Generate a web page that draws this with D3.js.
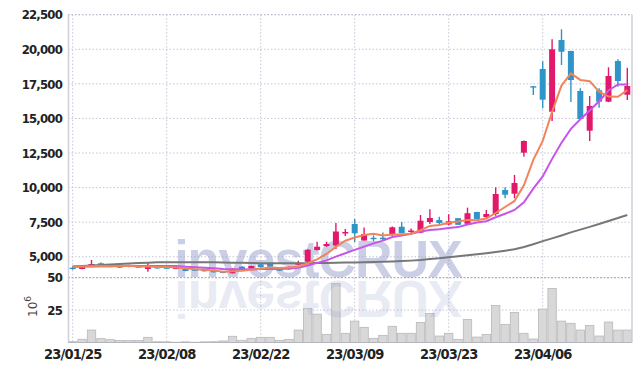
<!DOCTYPE html>
<html>
<head>
<meta charset="utf-8">
<script src="https://cdn.jsdelivr.net/npm/d3@7"></script>
<style>
  body { margin: 0; background: #fff; }
  svg { display: block; }
  .tick-label { font-family: "DejaVu Sans Condensed", "Liberation Sans Narrow", sans-serif; font-weight: bold; fill: #222; }
</style>
</head>
<body>
<div id="chart"></div>
<script>
const dates = [
  "2023-01-25", "2023-01-26", "2023-01-27", "2023-01-30", "2023-01-31",
  "2023-02-01", "2023-02-02", "2023-02-03", "2023-02-06", "2023-02-07",
  "2023-02-08", "2023-02-09", "2023-02-10", "2023-02-13", "2023-02-14",
  "2023-02-15", "2023-02-16", "2023-02-17", "2023-02-20", "2023-02-21",
  "2023-02-22", "2023-02-23", "2023-02-24", "2023-02-27", "2023-02-28",
  "2023-03-02", "2023-03-03", "2023-03-06", "2023-03-07", "2023-03-08",
  "2023-03-09", "2023-03-10", "2023-03-13", "2023-03-14", "2023-03-15",
  "2023-03-16", "2023-03-17", "2023-03-20", "2023-03-21", "2023-03-22",
  "2023-03-23", "2023-03-24", "2023-03-27", "2023-03-28", "2023-03-29",
  "2023-03-30", "2023-03-31", "2023-04-03", "2023-04-04", "2023-04-05",
  "2023-04-06", "2023-04-07", "2023-04-10", "2023-04-11", "2023-04-12",
  "2023-04-13", "2023-04-14", "2023-04-17", "2023-04-18", "2023-04-19"
]

const open = [
  4210, 4115, 4310, 4527, 4404, 4331, 4259, 4331, 4115, 4259,
  4237, 4115, 4165, 4093, 4064, 4021, 3948, 3804, 4281, 4165,
  4454, 4527, 4165, 4093, 4425, 4642, 5488, 5777, 5814, 6681,
  7368, 6175, 6370, 6378, 6558, 7173, 6790, 6739, 7512, 7657,
  7332, 7787, 7383, 8236, 7874, 8091, 9826, 9559, 12523, 17330,
  18575, 15487, 20671, 19876, 16984, 14114, 17035, 16211, 19153, 16716
]
const high = [
  4290, 4380, 4765, 4585, 4430, 4350, 4420, 4360, 4600, 4290,
  4260, 4280, 4190, 4110, 4090, 4040, 3970, 4170, 4330, 4350,
  4480, 4550, 4190, 4300, 4715, 5540, 6090, 6090, 7440, 7010,
  7730, 7115, 6540, 6750, 7180, 7510, 7040, 8020, 8430, 7900,
  8070, 7810, 8550, 8260, 8380, 10020, 10020, 10910, 13400, 17340,
  19130, 20720, 21445, 19900, 17180, 16620, 17180, 18700, 19280, 18670
]
const low = [
  4060, 4100, 4290, 4360, 4240, 4190, 4240, 4200, 3920, 4140,
  4120, 4100, 3950, 3970, 3930, 3860, 3800, 3790, 4090, 4150,
  4220, 4260, 3970, 4080, 4380, 4620, 5450, 5705, 5560, 6500,
  6070, 6150, 6120, 6210, 6520, 6680, 6700, 6700, 7370, 7370,
  7275, 7290, 7370, 7710, 7730, 7970, 9225, 9225, 12235, 16700,
  15730, 14815, 18865, 16190, 14930, 13370, 15770, 16180, 17295, 16335
]
const close = [
  4120, 4353, 4476, 4382, 4259, 4209, 4404, 4209, 4353, 4165,
  4136, 4259, 3970, 3992, 3948, 3876, 3825, 4130, 4115, 4331,
  4237, 4281, 3992, 4281, 4570, 5510, 5727, 5922, 6826, 6790,
  6696, 6645, 6330, 6262, 7129, 6696, 6898, 7607, 7802, 7440,
  7563, 7310, 8149, 7730, 8091, 9537, 9486, 10332, 13369, 17320,
  16355, 20000, 19825, 17779, 14960, 15899, 16211, 18068, 17706, 17345
]
// volume in millions
const volume = [
  0.6, 2.5, 9.6, 3, 2.2, 1.5, 1.5, 1.5, 4, 0.6,
  0.5, 0.2, 0.5, 0.2, 0.5, 0.6, 1.2, 4.8, 1.7, 3.2,
  4, 4, 1.7, 2.4, 9.6, 26.3, 21.9, 6.3, 45.5, 7.1,
  16.5, 11.7, 3.2, 5.5, 12.5, 7.1, 7.1, 15.5, 22.4, 5,
  7.1, 2.4, 17.8, 4.2, 6.3, 28.6, 14, 23.2, 7.1, 2.7,
  25.8, 41.7, 16.5, 14.8, 9.6, 13.2, 5, 15.8, 9.6, 9.6
]

const ma5 = [
  4290, 4300, 4320, 4330, 4318, 4336, 4346, 4293, 4287, 4268,
  4253, 4224, 4177, 4104, 4061, 4009, 3922, 3954, 3979, 4055,
  4128, 4219, 4191, 4224, 4272, 4527, 4816, 5202, 5711, 6155,
  6392, 6576, 6657, 6545, 6612, 6612, 6663, 6918, 7226, 7289,
  7462, 7544, 7653, 7638, 7769, 8163, 8599, 9035, 10163, 12009,
  13372, 15475, 17374, 18256, 17784, 17693, 16935, 16583, 16569, 17046
]
const ma10 = [
  4280, 4290, 4300, 4310, 4320, 4325, 4330, 4330, 4330, 4333,
  4335, 4325, 4275, 4236, 4205, 4171, 4113, 4105, 4082, 4098,
  4108, 4111, 4113, 4142, 4204, 4367, 4557, 4737, 5008, 5254,
  5500, 5736, 5970, 6168, 6424, 6542, 6659, 6828, 6926, 6991,
  7077, 7144, 7326, 7472, 7569, 7853, 8112, 8384, 8941, 9929,
  10808, 12077, 13245, 14249, 14936, 15573, 16245, 17019, 17452, 17455
]
const ma60 = [
  4300, 4330, 4360, 4400, 4440, 4480, 4520, 4550, 4575, 4595,
  4600, 4605, 4605, 4600, 4600, 4595, 4585, 4575, 4560, 4545,
  4535, 4530, 4525, 4525, 4525, 4530, 4540, 4550, 4565, 4580,
  4590, 4600, 4620, 4640, 4665, 4690, 4720, 4760, 4830, 4900,
  4960, 5030, 5100, 5180, 5260, 5350, 5440, 5540, 5700, 5900,
  6130, 6330, 6540, 6760, 6960, 7160, 7370, 7590, 7800, 8020
]

const dateTicks = ["2023-01-25", "2023-02-08", "2023-02-22", "2023-03-09", "2023-03-23", "2023-04-06"]
const priceTicks = [5000, 7500, 10000, 12500, 15000, 17500, 20000, 22500]
const volumeTicks = [25, 50]

const width = 642, height = 371
const margin = {top: 14.7, right: 10, left: 68}
const priceBottom = 277.5, volumeBottom = 342.5, volumeTop = 277.7

const red = "#e2196b", blue = "#2f95c8"

const svg = d3.select("#chart").append("svg")
  .attr("width", width)
  .attr("height", height)
  .attr("viewBox", [0, 0, width, height])

const x = d3.scaleBand().domain(dates).range([margin.left, width - margin.right])
const cx = d => x(d) + x.bandwidth() / 2
const y = d3.scaleLinear().domain([3500, 22500]).range([priceBottom, margin.top])
const yv = d3.scaleLinear().domain([0, 50]).range([volumeBottom, volumeTop])

// grid
const grid = svg.append("g").attr("fill", "none")
grid.selectAll("line.h")
  .data(priceTicks)
  .join("line")
    .attr("x1", margin.left).attr("x2", width - margin.right)
    .attr("y1", d => y(d)).attr("y2", d => y(d))
    .attr("stroke", "#c3c6d6")
    .attr("stroke-dasharray", "1.5,2")
grid.append("line")
  .attr("x1", margin.left).attr("x2", width - margin.right)
  .attr("y1", yv(25)).attr("y2", yv(25))
  .attr("stroke", "#c3c6d6")
  .attr("stroke-dasharray", "1.5,2")
grid.selectAll("line.v")
  .data(dateTicks)
  .join("line")
    .attr("x1", cx).attr("x2", cx)
    .attr("y1", margin.top).attr("y2", volumeBottom)
    .attr("stroke", "#c3c6d6")
    .attr("stroke-dasharray", "1.5,2")

// volume bars
svg.append("g")
  .selectAll("rect")
  .data(dates)
  .join("rect")
    .attr("x", d => x(d) + 0.5)
    .attr("y", (d, i) => yv(volume[i]))
    .attr("width", x.bandwidth() - 1)
    .attr("height", (d, i) => yv(0) - yv(volume[i]))
    .attr("fill", "#d8d8d8")
    .attr("stroke", "#b8b8b8")
    .attr("stroke-width", 0.8)

// watermark + its reflection
const mark = svg.append("g")
  .attr("font-family", "Liberation Sans, Arial, sans-serif")
  .attr("font-weight", "bold")
  .attr("font-size", 52)
  .attr("letter-spacing", -1)
  .attr("text-anchor", "middle")
mark.append("text")
  .attr("x", 318).attr("y", 277)
  .attr("fill", "rgb(150,160,205)")
  .attr("fill-opacity", 0.5)
  .text("investCRUX")
mark.append("text")
  .attr("x", 318).attr("y", 277)
  .attr("transform", "translate(0,558) scale(1,-1)")
  .attr("fill", "rgb(150,160,205)")
  .attr("fill-opacity", 0.22)
  .text("investCRUX")

// frame
svg.append("line")
  .attr("x1", margin.left).attr("x2", width - margin.right)
  .attr("y1", margin.top).attr("y2", margin.top)
  .attr("stroke", "#b8bbcc").attr("stroke-dasharray", "1.5,2")
svg.append("line")
  .attr("x1", margin.left).attr("x2", width - margin.right)
  .attr("y1", volumeTop).attr("y2", volumeTop)
  .attr("stroke", "#9a9cab").attr("stroke-dasharray", "2,1.5")
svg.append("line")
  .attr("x1", margin.left).attr("x2", width - margin.right)
  .attr("y1", volumeBottom).attr("y2", volumeBottom)
  .attr("stroke", "#b5b5bd").attr("stroke-width", 1.2)
svg.append("line")
  .attr("x1", margin.left + 0.5).attr("x2", margin.left + 0.5)
  .attr("y1", margin.top).attr("y2", volumeBottom)
  .attr("stroke", "#cfd0da").attr("stroke-width", 1.5)
svg.append("line")
  .attr("x1", width - margin.right).attr("x2", width - margin.right)
  .attr("y1", margin.top).attr("y2", volumeBottom)
  .attr("stroke", "#cfd0da").attr("stroke-width", 1.5)

// candles
const candles = svg.append("g")
  .selectAll("g")
  .data(dates)
  .join("g")
    .attr("fill", (d, i) => close[i] >= open[i] ? red : blue)
    .attr("stroke", (d, i) => close[i] >= open[i] ? red : blue)

candles.append("line")
  .attr("x1", cx).attr("x2", cx)
  .attr("y1", (d, i) => y(high[i]))
  .attr("y2", (d, i) => y(low[i]))
  .attr("stroke-width", 1.4)

candles.append("rect")
  .attr("x", d => cx(d) - 3)
  .attr("y", (d, i) => Math.min(y(open[i]), y(close[i])))
  .attr("width", 6)
  .attr("height", (d, i) => Math.max(1.4, Math.abs(y(open[i]) - y(close[i]))))
  .attr("stroke", "none")

// moving averages
const line = values => d3.line()
  .x(d => cx(d))
  .y((d, i) => y(values[i]))
  .curve(d3.curveLinear)(dates)

svg.append("path").attr("d", line(ma60))
  .attr("fill", "none").attr("stroke", "#777").attr("stroke-width", 2)
svg.append("path").attr("d", line(ma10))
  .attr("fill", "none").attr("stroke", "#c655e8").attr("stroke-width", 2)
svg.append("path").attr("d", line(ma5))
  .attr("fill", "none").attr("stroke", "#f0845a").attr("stroke-width", 2)

// axes labels
const fmtPrice = d3.format(",")
svg.append("g")
  .selectAll("text")
  .data(priceTicks)
  .join("text")
    .attr("class", "tick-label")
    .attr("x", 62)
    .attr("y", d => y(d))
    .attr("dy", "0.36em")
    .attr("text-anchor", "end")
    .attr("font-size", 13)
    .attr("letter-spacing", -0.8)
    .text(fmtPrice)

svg.append("g")
  .selectAll("text")
  .data(volumeTicks)
  .join("text")
    .attr("class", "tick-label")
    .attr("x", 62)
    .attr("y", d => yv(d))
    .attr("dy", "0.36em")
    .attr("text-anchor", "end")
    .attr("font-size", 13)
    .attr("letter-spacing", -0.8)
    .text(d => d)

const unit = svg.append("text")
  .attr("transform", "translate(37,317) rotate(-90)")
  .attr("font-family", "DejaVu Sans, sans-serif")
  .attr("font-size", 12)
  .attr("fill", "#444")
unit.append("tspan").text("10")
unit.append("tspan").attr("font-size", 9).attr("dy", -6).text("6")

const fmtDate = d3.timeFormat("%y/%m/%d")
const parseDate = d3.timeParse("%Y-%m-%d")
svg.append("g")
  .selectAll("text")
  .data(dateTicks)
  .join("text")
    .attr("class", "tick-label")
    .attr("x", cx)
    .attr("y", 359)
    .attr("text-anchor", "middle")
    .attr("font-size", 14.5)
    .attr("letter-spacing", -0.8)
    .text(d => fmtDate(parseDate(d)))
</script>
</body>
</html>
